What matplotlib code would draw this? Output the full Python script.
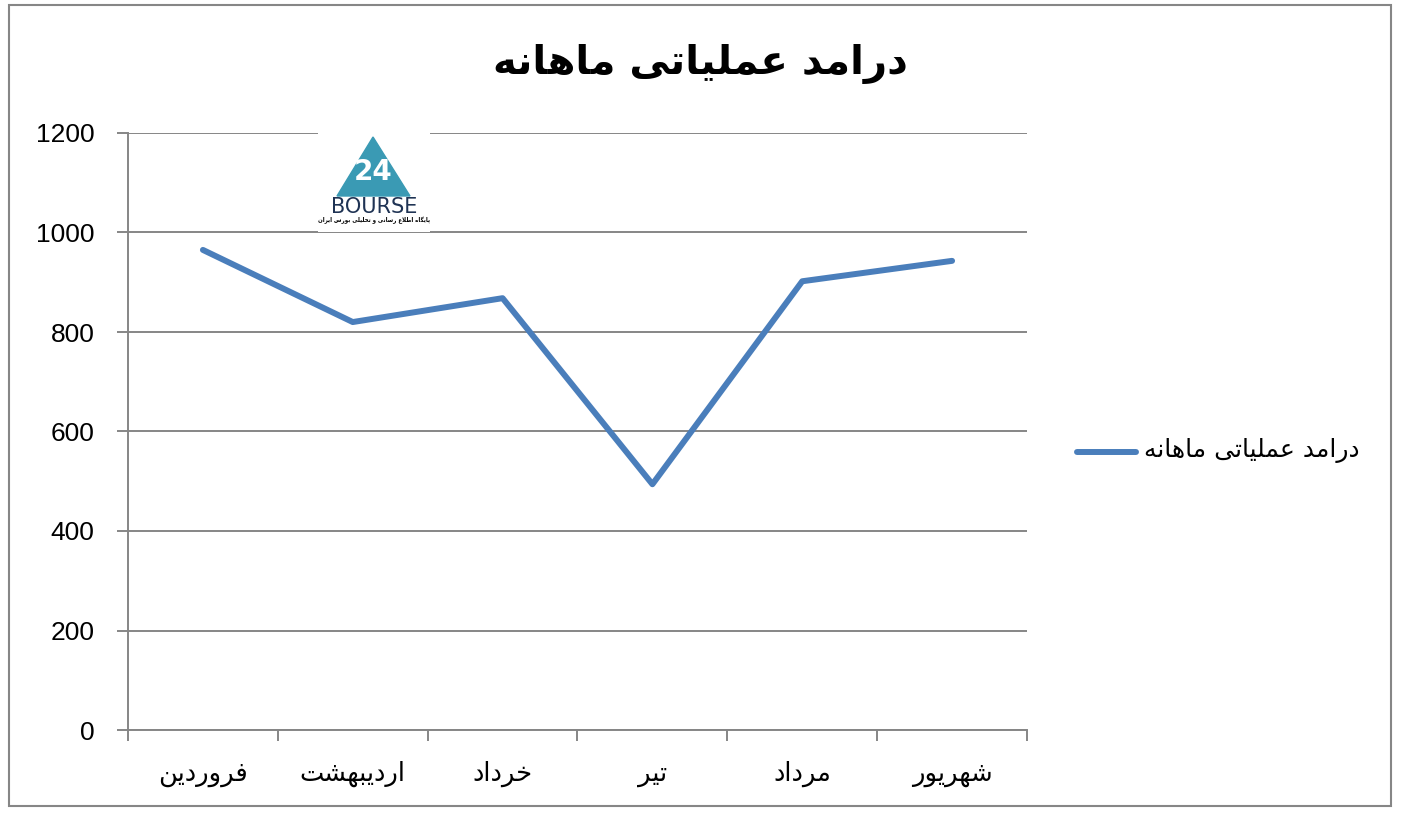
import matplotlib
matplotlib.use("Agg")
import matplotlib.pyplot as plt
from matplotlib.patches import Rectangle, Polygon
from matplotlib.ticker import FixedLocator

# Data
months = ["فروردین", "اردیبهشت", "خرداد", "تیر", "مرداد", "شهریور"]
revenue = [965, 820, 868, 494, 902, 943]
y_ticks = [0, 200, 400, 600, 800, 1000, 1200]
title = "درامد عملیاتی ماهانه"
logo_caption = "پایگاه اطلاع رسانی و تحلیلی بورس ایران"

# Arabic presentation forms: isolated, final, initial, medial
FORMS = {
    "ا": (0xFE8D, 0xFE8E, None, None),
    "ب": (0xFE8F, 0xFE90, 0xFE91, 0xFE92),
    "پ": (0xFB56, 0xFB57, 0xFB58, 0xFB59),
    "ت": (0xFE95, 0xFE96, 0xFE97, 0xFE98),
    "ح": (0xFEA1, 0xFEA2, 0xFEA3, 0xFEA4),
    "خ": (0xFEA5, 0xFEA6, 0xFEA7, 0xFEA8),
    "د": (0xFEA9, 0xFEAA, None, None),
    "ر": (0xFEAD, 0xFEAE, None, None),
    "س": (0xFEB1, 0xFEB2, 0xFEB3, 0xFEB4),
    "ش": (0xFEB5, 0xFEB6, 0xFEB7, 0xFEB8),
    "ط": (0xFEC1, 0xFEC2, 0xFEC3, 0xFEC4),
    "ع": (0xFEC9, 0xFECA, 0xFECB, 0xFECC),
    "ف": (0xFED1, 0xFED2, 0xFED3, 0xFED4),
    "ک": (0xFB8E, 0xFB8F, 0xFB90, 0xFB91),
    "گ": (0xFB92, 0xFB93, 0xFB94, 0xFB95),
    "ل": (0xFEDD, 0xFEDE, 0xFEDF, 0xFEE0),
    "م": (0xFEE1, 0xFEE2, 0xFEE3, 0xFEE4),
    "ن": (0xFEE5, 0xFEE6, 0xFEE7, 0xFEE8),
    "ه": (0xFEE9, 0xFEEA, 0xFEEB, 0xFEEC),
    "و": (0xFEED, 0xFEEE, None, None),
    "ی": (0xFBFC, 0xFBFD, 0xFBFE, 0xFBFF),
}


def shape(text):
    """Join Persian letters and put them in visual (left to right) order."""
    try:
        import arabic_reshaper
        from bidi.algorithm import get_display
        return get_display(arabic_reshaper.reshape(text))
    except ImportError:
        pass

    def dual(c):
        return c in FORMS and FORMS[c][2] is not None

    out = []
    i = 0
    while i < len(text):
        c = text[i]
        if c not in FORMS:
            out.append(c)
            i += 1
            continue
        prev = text[i - 1] if i > 0 else ""
        joins_prev = dual(prev)
        nxt = text[i + 1] if i + 1 < len(text) else ""
        # lam-alef ligature
        if c == "ل" and nxt == "ا":
            out.append(chr(0xFEFC if joins_prev else 0xFEFB))
            i += 2
            continue
        joins_next = dual(c) and nxt in FORMS
        iso, fin, ini, med = FORMS[c]
        if joins_prev and joins_next:
            code = med
        elif joins_prev:
            code = fin
        elif joins_next:
            code = ini
        else:
            code = iso
        out.append(chr(code))
        i += 1
    return "".join(out)[::-1]


W, H = 1401, 821
fig = plt.figure(figsize=(W / 100, H / 100), dpi=100)
grey = "#868686"
blue = "#4A7EBB"

# outer chart border
fig.patches.append(Rectangle((9 / W, 1 - 806 / H), 1382 / W, 801 / H,
                             transform=fig.transFigure, fill=False,
                             edgecolor=grey, lw=1.5))

ax = fig.add_axes([128 / W, 1 - 730 / H, 899 / W, 597 / H])
x = list(range(len(months)))
line, = ax.plot(x, revenue, color=blue, lw=4.3, solid_capstyle="round",
                solid_joinstyle="round", zorder=3)

ax.set_xlim(-0.5, len(months) - 0.5)
ax.set_ylim(0, 1200)
ax.set_yticks(y_ticks)
ax.set_yticklabels([str(v) for v in y_ticks], fontsize=19,
                   family="Liberation Sans")
ax.grid(axis="y", color=grey, lw=1.4)
ax.set_axisbelow(True)

ax.set_xticks(x)
ax.set_xticklabels([shape(m) for m in months], fontsize=18.5,
                   family="DejaVu Sans")
ax.xaxis.set_minor_locator(FixedLocator([i - 0.5 for i in range(len(months) + 1)]))
ax.tick_params(axis="x", which="major", length=0, pad=22)
ax.tick_params(axis="x", which="minor", length=8, width=1.4, color=grey,
               direction="out")
ax.tick_params(axis="y", length=8, width=1.4, color=grey, pad=16)

for side in ["top", "right"]:
    ax.spines[side].set_visible(False)
for side in ["left", "bottom"]:
    ax.spines[side].set_color(grey)
    ax.spines[side].set_linewidth(1.4)

fig.text(700 / W, 1 - 64 / H, shape(title), ha="center", va="center",
         fontsize=29, fontweight="bold", family="DejaVu Sans")

# legend
fig.add_artist(plt.Line2D([1077 / W, 1136 / W], [1 - 452 / H] * 2,
                          color=blue, lw=4.3, solid_capstyle="round",
                          transform=fig.transFigure))
fig.text(1360 / W, 1 - 450 / H, shape(title), ha="right", va="center",
         fontsize=18, family="DejaVu Sans")

# watermark logo
lax = fig.add_axes([318 / W, 1 - 232 / H, 112 / W, 112 / H])
lax.set_xlim(0, 112)
lax.set_ylim(112, 0)
lax.axis("off")
lax.add_patch(Rectangle((0, 0), 112, 112, color="white"))
lax.add_patch(Polygon([[55, 17], [19, 76], [92, 76]], color="#3A9AB4"))
lax.text(55, 52, "24", ha="center", va="center", fontsize=20,
         fontweight="bold", color="white", family="DejaVu Sans")
lax.text(56, 87, "BOURSE", ha="center", va="center", fontsize=15,
         color="#1F3354", family="DejaVu Sans")
lax.text(56, 100, shape(logo_caption), ha="center", va="center", fontsize=4,
         fontweight="bold", color="black", family="DejaVu Sans")

fig.savefig("out.png", dpi=100, facecolor="white")
